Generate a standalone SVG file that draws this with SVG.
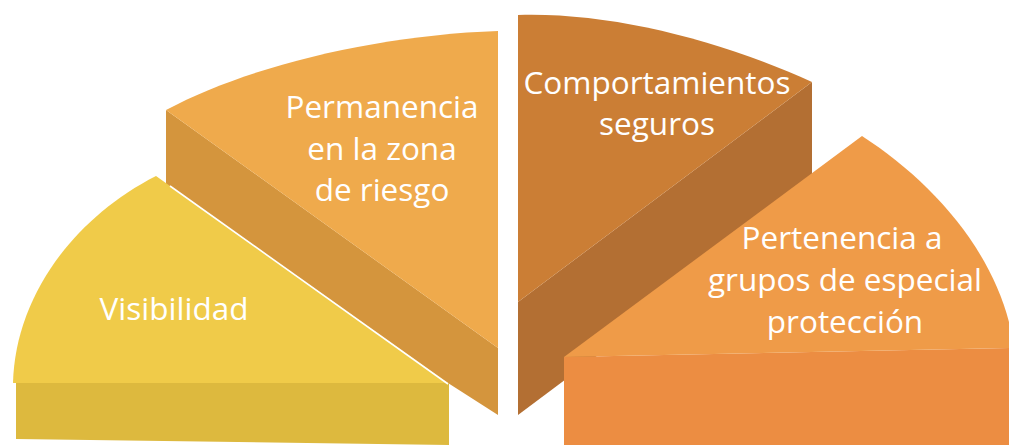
<svg xmlns="http://www.w3.org/2000/svg" width="1009" height="445" viewBox="0 0 1009 445">
<style>
.t{font-family:"Open Sans","Noto Sans",sans-serif;font-size:31.5px;fill:#ffffff;text-anchor:middle}
</style>
<rect width="1009" height="445" fill="#ffffff"/>
<g id="permanencia">
<path d="M166,110 L498,348 L498,415 L448,383 L166,203 Z" fill="#D4953D"/>
<path d="M166,110 C250,65 380,35 498,31 L498,348 Z" fill="#EFAA4C"/>
<text class="t" x="382" y="118">Permanencia</text>
<text class="t" x="382" y="159.5">en la zona</text>
<text class="t" x="382" y="201">de riesgo</text>
</g>
<g id="visibilidad">
<path d="M16,383 L449,383 L449,445 L16,439 Z" fill="#DDB93E"/>
<path d="M13,383 C15,300 70,220 156,176 L448,383 Z" fill="#F0CB49"/>
<path d="M170,186 L448,384" stroke="#ffffff" stroke-width="1.6" fill="none"/>
<text class="t" x="174" y="320">Visibilidad</text>
</g>
<g id="comportamientos">
<path d="M518,302 L812,82 L812,195 L518,415 Z" fill="#B36F33"/>
<path d="M518,15 C610,12 720,40 812,82 L518,302 Z" fill="#CB7E35"/>
<text class="t" x="657" y="94">Comportamientos</text>
<text class="t" x="657" y="135">seguros</text>
</g>
<g id="pertenencia">
<path d="M564,357 L1009,348 L1009,445 L564,445 Z" fill="#EC8D42"/>
<path d="M862,136 C930,180 995,250 1012,335 L1009,348 L564,357 Z" fill="#EF9B48"/>
<text class="t" x="842" y="249">Pertenencia a</text>
<text class="t" x="845" y="291">grupos de especial</text>
<text class="t" x="845" y="333">protección</text>
</g>
<g id="connectors"/>
</svg>
